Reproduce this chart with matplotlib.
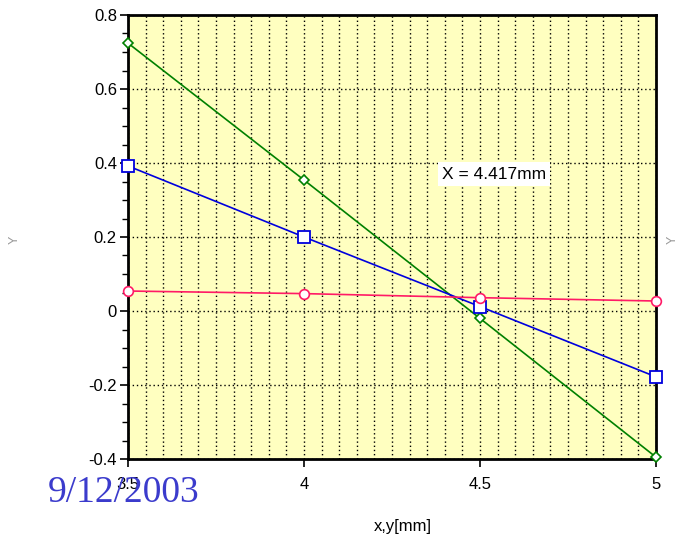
import matplotlib
matplotlib.use("Agg")
import matplotlib.pyplot as plt
from matplotlib.ticker import MultipleLocator

# positions along x,y in mm and the three measured curves
x_mm = [3.5, 4.0, 4.5, 5.0]
green_vals = [0.724, 0.354, -0.020, -0.395]
blue_vals = [0.392, 0.200, 0.012, -0.178]
pink_vals = [0.054, 0.047, 0.036, 0.027]
x_ticks = [3.5, 4.0, 4.5, 5.0]
x_tick_labels = ["3.5", "4", "4.5", "5"]
y_ticks = [-0.4, -0.2, 0, 0.2, 0.4, 0.6, 0.8]
y_tick_labels = ["-0.4", "-0.2", "0", "0.2", "0.4", "0.6", "0.8"]
crossing_label = "X = 4.417mm"
date_label = "9/12/2003"

plt.rcParams["font.family"] = ["Liberation Sans", "DejaVu Sans"]

fig = plt.figure(figsize=(6.79, 5.41), dpi=100)
ax = fig.add_axes([128 / 679, 1 - 459 / 541, 528 / 679, 444 / 541])
ax.set_facecolor("#ffffc0")

ax.plot(x_mm, green_vals, color="#008000", lw=1.2, marker="D", ms=5,
        mfc="white", mec="#008000", mew=1.2, zorder=3, clip_on=False)
ax.plot(x_mm, blue_vals, color="#0000dd", lw=1.2, marker="s", ms=8,
        mfc="white", mec="#0000dd", mew=1.3, zorder=3, clip_on=False)
ax.plot(x_mm, pink_vals, color="#ff1a66", lw=1.2, marker="o", ms=7,
        mfc="white", mec="#ff1a66", mew=1.2, zorder=3, clip_on=False)

ax.set_xlim(3.5, 5.0)
ax.set_ylim(-0.4, 0.8)
ax.set_xticks(x_ticks)
ax.set_xticklabels(x_tick_labels)
ax.set_yticks(y_ticks)
ax.set_yticklabels(y_tick_labels)
ax.xaxis.set_minor_locator(MultipleLocator(0.05))
ax.yaxis.set_minor_locator(MultipleLocator(0.05))

ax.grid(which="major", axis="y", color="black", ls=(0, (1, 2)), lw=1)
ax.grid(which="both", axis="x", color="black", ls=(0, (1, 2)), lw=1)
ax.set_axisbelow(True)

for s in ax.spines.values():
    s.set_linewidth(2)
ax.tick_params(which="major", direction="out", length=6, width=1.2,
               labelsize=12, colors="black", pad=2)
ax.tick_params(axis="x", which="major", pad=7)
ax.tick_params(axis="x", which="minor", length=0)
ax.tick_params(axis="y", which="minor", direction="out", length=4, width=1)

ax.text(4.54, 0.37, crossing_label, fontsize=12.5, ha="center", va="center",
        bbox=dict(facecolor="white", edgecolor="none", pad=3), zorder=4)

fig.text(403 / 679, 1 - 527 / 541, "x,y[mm]", fontsize=12, ha="center",
         va="center")

fig.text(48 / 679, 1 - 502 / 541, date_label, fontsize=27, color="#3b3bcc",
         family="Liberation Serif", ha="left", va="baseline")
fig.text(15 / 679, 1 - 240 / 541, "Y", fontsize=9, color="#999999",
         rotation=90, ha="center", va="center")
fig.text(673 / 679, 1 - 240 / 541, "Y", fontsize=9, color="#999999",
         rotation=90, ha="center", va="center")

fig.savefig("out.png", dpi=100)
